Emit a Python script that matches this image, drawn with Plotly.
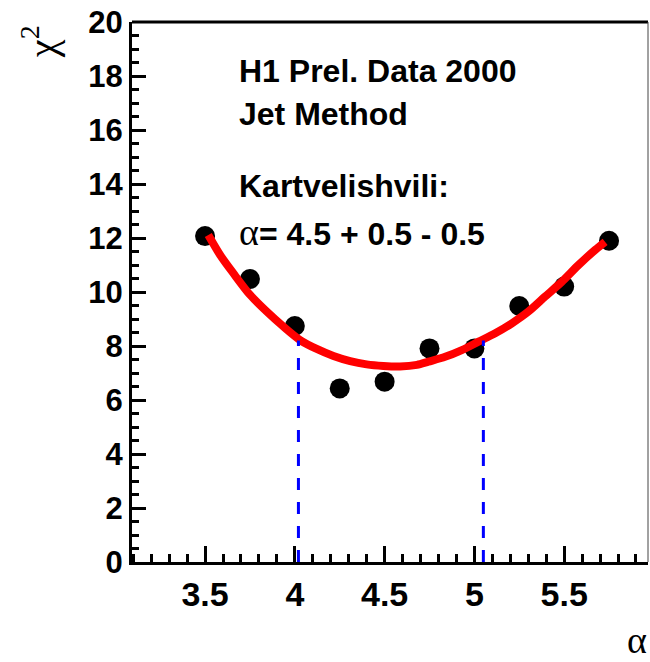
import plotly.graph_objects as go

# data points (alpha, chi2)
alpha_pts = [3.5, 3.75, 4.0, 4.25, 4.5, 4.75, 5.0, 5.25, 5.5, 5.75]
chi2_pts = [12.07, 10.48, 8.74, 6.43, 6.68, 7.91, 7.91, 9.48, 10.2, 11.9]

# fitted curve
curve_x = [3.518, 3.584, 3.658, 3.751, 3.844, 3.936, 4.029, 4.122, 4.215, 4.308, 4.40,
           4.493, 4.586, 4.68, 4.744, 4.837, 4.93, 5.023, 5.116, 5.209, 5.30, 5.394,
           5.487, 5.58, 5.673, 5.728]
curve_y = [12.11, 11.37, 10.69, 9.89, 9.27, 8.72, 8.22, 7.89, 7.63, 7.44, 7.32,
           7.26, 7.24, 7.30, 7.42, 7.60, 7.85, 8.16, 8.47, 8.84, 9.27, 9.83,
           10.38, 11.0, 11.56, 11.86]

# error band limits (dashed lines)
limit_x = [4.02, 5.05]
limit_top = [8.2, 8.2]

labels = ["H1 Prel. Data 2000", "Jet Method", "Kartvelishvili:",
          "<span style='font-family:Liberation Serif;font-weight:normal;font-size:38px'>α</span>= 4.5 + 0.5 - 0.5"]
label_y = [18.2, 16.61, 13.94, 12.24]

SANS = "Liberation Sans, Arial, sans-serif"
SERIF = "Liberation Serif, Times New Roman, serif"

fig = go.Figure()
fig.add_trace(go.Scatter(x=alpha_pts, y=chi2_pts, mode="markers",
                         marker=dict(color="black", size=20), hoverinfo="skip"))
fig.add_trace(go.Scatter(x=curve_x, y=curve_y, mode="lines", line_shape="spline",
                         line=dict(color="#ff0000", width=8, smoothing=0.8), hoverinfo="skip"))
for lx, lt in zip(limit_x, limit_top):
    fig.add_trace(go.Scatter(x=[lx, lx], y=[0, lt], mode="lines",
                             line=dict(color="#0000ff", width=3, dash="12px,12px"),
                             hoverinfo="skip"))

for t, yy in zip(labels, label_y):
    fig.add_annotation(x=3.678, y=yy, xref="x", yref="y", text=t, showarrow=False,
                       xanchor="left", yanchor="middle",
                       font=dict(family=SANS, size=32, color="black", weight="bold"))

fig.add_annotation(x=-0.178, y=0.963, xref="paper", yref="paper", text="χ<sup>2</sup>",
                   textangle=-90, showarrow=False, xanchor="center", yanchor="middle",
                   font=dict(family=SERIF, size=40, color="black"))
fig.add_annotation(x=1.0, y=-0.185, xref="paper", yref="paper", text="α",
                   showarrow=False, xanchor="right", yanchor="bottom", borderpad=0,
                   font=dict(family=SERIF, size=38, color="black"))

# frame: thick top, thin right
fig.add_shape(type="line", xref="paper", yref="paper", x0=0, x1=1, y0=1, y1=1,
              line=dict(color="black", width=3))
fig.add_shape(type="line", xref="paper", yref="paper", x0=1, x1=1, y0=0, y1=1,
              line=dict(color="#444444", width=1))

fig.update_layout(
    width=650, height=662, margin=dict(l=132, r=2, t=22, b=100),
    plot_bgcolor="white", paper_bgcolor="white", showlegend=False,
    xaxis=dict(range=[3.093, 5.967], showline=True, linecolor="black", linewidth=3,
               ticks="inside", ticklen=16, tickwidth=3, tickcolor="black",
               tick0=3.5, dtick=0.5, showgrid=False, zeroline=False, automargin=False,
               ticklabeloverflow="allow",
               tickfont=dict(family=SANS, size=34, color="black", weight="bold"),
               minor=dict(ticks="inside", ticklen=8, tickwidth=3, tickcolor="black",
                          dtick=0.1, showgrid=False)),
    yaxis=dict(range=[0, 20], showline=True, linecolor="black", linewidth=3,
               ticks="inside", ticklen=14, tickwidth=3, tickcolor="black",
               tick0=0, dtick=2, showgrid=False, zeroline=False, automargin=False,
               ticklabeloverflow="allow",
               tickfont=dict(family=SANS, size=31, color="black", weight="bold"),
               minor=dict(ticks="inside", ticklen=7, tickwidth=3, tickcolor="black",
                          dtick=0.5, showgrid=False)),
)

# remove the default 8px page margin so the 650x662 figure fills the window
fig.write_html("out.html", config={"displayModeBar": False},
               post_script="document.body.style.margin='0px';")
